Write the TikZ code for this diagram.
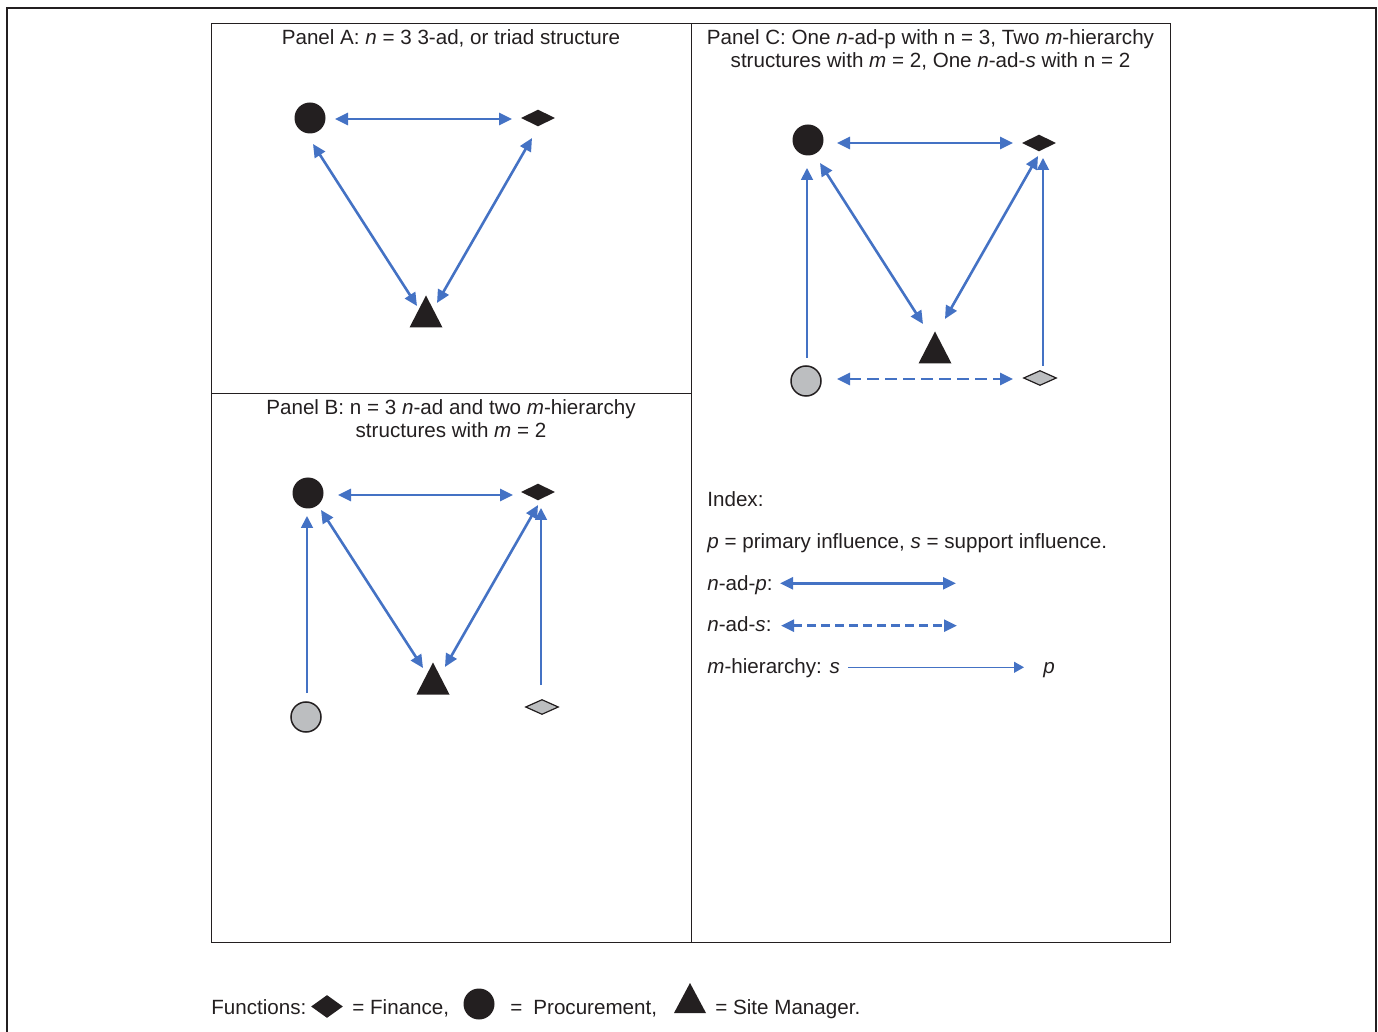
\documentclass[tikz,border=0pt]{standalone}
\usepackage{fontspec}
\setmainfont{Liberation Sans}
\usetikzlibrary{arrows.meta,shapes.geometric}
\definecolor{ink}{HTML}{231F20}
\definecolor{arrblue}{HTML}{4472C4}
\definecolor{shade}{HTML}{BCBEC0}
\begin{document}
\begin{tikzpicture}[x=0.5pt,y=-0.5pt, font=\fontsize{10.3pt}{12pt}\selectfont, text=ink,
 bcirc/.style={circle, fill=ink, inner sep=0pt, minimum size=15.5pt},
 gcirc/.style={circle, fill=shade, draw=ink, line width=0.75pt, inner sep=0pt, minimum size=15pt},
 bdiam/.style={diamond, fill=ink, inner sep=0pt, minimum width=17pt, minimum height=8.5pt},
 gdiam/.style={diamond, fill=shade, draw=ink, line width=0.6pt, inner sep=0pt, minimum width=16.5pt, minimum height=7.5pt},
 btri/.style={rectangle, inner sep=0pt, minimum width=16.5pt, minimum height=16pt,
   path picture={\fill[ink] (path picture bounding box.south west) -- (path picture bounding box.south east) -- (path picture bounding box.north) -- cycle;}},
 txt/.style={anchor=base, inner sep=0pt},
 ltxt/.style={anchor=base west, inner sep=0pt},
 nadp/.style={draw=arrblue, line width=1.3pt, {Triangle[length=6.5pt,width=6pt]}-{Triangle[length=6.5pt,width=6pt]}},
 nads/.style={nadp, dash pattern=on 6pt off 3pt},
 mhier/.style={draw=arrblue, line width=0.9pt, -{Triangle[length=6pt,width=6pt]}},
]
\useasboundingbox (0,0) rectangle (1378,1032);
% frames
\draw[line width=1pt, ink] (7,1040) -- (7,8) -- (1376,8) -- (1376,1040);
\draw[line width=0.5pt, ink] (211,24) rectangle (1170,942);
\draw[line width=0.5pt, ink] (691,24) -- (691,942);
\draw[line width=0.5pt, ink] (211,394) -- (691,394);

% ---------- Panel A ----------
\node[txt] (titA) at (451,45) {Panel A: \textit{n} = 3 3-ad, or triad structure};
\node[bcirc] (cA) at (310,118) {};
\node[bdiam] (dA) at (538,118) {};
\node[btri] (tA) at (426,311.5) {};
\draw[nadp] ([shift={(25,1)}]cA.center) -- ([shift={(-26,1)}]dA.center);
\draw[nadp] ([shift={(3,26)}]cA.center) -- ([shift={(-9,-5.5)}]tA.center);
\draw[nadp] ([shift={(-6,20)}]dA.center) -- ([shift={(11,-8.5)}]tA.center);

% ---------- Panel B ----------
\node[txt] (titB1) at (451,415) {Panel B: n = 3 \textit{n}-ad and two \textit{m}-hierarchy};
\node[txt] (titB2) at (451,438) {structures with \textit{m} = 2};
\node[bcirc] (cB) at (308,493) {};
\node[bdiam] (dB) at (538,492) {};
\node[btri] (tB) at (433,678.5) {};
\node[gcirc] (gcB) at (306,717) {};
\node[gdiam] (gdB) at (542,707) {};
\draw[nadp] ([shift={(30,2)}]cB.center) -- ([shift={(-25,3)}]dB.center);
\draw[nadp] ([shift={(13,17)}]cB.center) -- ([shift={(-10,-10.5)}]tB.center);
\draw[nadp] ([shift={(0,13)}]dB.center) -- ([shift={(12,-11.5)}]tB.center);
\draw[mhier] ([shift={(1,-24)}]gcB.center) -- ([shift={(-1,23)}]cB.center);
\draw[mhier] ([shift={(-1,-22)}]gdB.center) -- ([shift={(3,16)}]dB.center);

% ---------- Panel C ----------
\node[txt] (titC1) at (930.5,45) {Panel C: One \textit{n}-ad-p with n = 3, Two \textit{m}-hierarchy};
\node[txt] (titC2) at (930.5,68) {structures with \textit{m} = 2, One \textit{n}-ad-\textit{s} with n = 2};
\node[bcirc] (cC) at (808,140) {};
\node[bdiam] (dC) at (1039,143) {};
\node[btri] (tC) at (935,347.5) {};
\node[gcirc] (gcC) at (806,381) {};
\node[gdiam] (gdC) at (1040,378) {};
\draw[nadp] ([shift={(29,3)}]cC.center) -- ([shift={(-26,0)}]dC.center);
\draw[nadp] ([shift={(12,23)}]cC.center) -- ([shift={(-12,-23.5)}]tC.center);
\draw[nadp] ([shift={(-1,13)}]dC.center) -- ([shift={(10,-28.5)}]tC.center);
\draw[mhier] ([shift={(1,-23)}]gcC.center) -- ([shift={(-1,28)}]cC.center);
\draw[mhier] ([shift={(3,-12)}]gdC.center) -- ([shift={(4,15)}]dC.center);
\draw[nads] ([shift={(31,-2)}]gcC.center) -- ([shift={(-27,1)}]gdC.center);

% ---------- Index ----------
\node[ltxt] (idx) at (707,507) {Index:};
\node[ltxt] (idxps) at (707,548) {\textit{p} = primary influence, \textit{s} = support influence.};
\node[ltxt] (lp) at (707,590) {\textit{n}-ad-\textit{p}:};
\node[ltxt] (ls) at (707,632) {\textit{n}-ad-\textit{s}:};
\node[ltxt] (lm) at (707,673) {\textit{m}-hierarchy: \textit{s}};
\node[ltxt] (lmp) at (1043,673) {\textit{p}};
\coordinate (p1) at (780,583.3);
\coordinate (p2) at (956,583.3);
\coordinate (s1) at (781,625.7);
\coordinate (s2) at (957,625.7);
\coordinate (m1) at (848,667.3);
\coordinate (m2) at (1024,667.3);
\draw[nadp] (p1) -- (p2);
\draw[nadp, dash pattern=on 4.5pt off 2.5pt] (s1) -- (s2);
\draw[draw=arrblue, line width=0.7pt, -{Triangle[length=5pt,width=5.5pt]}] (m1) -- (m2);

% ---------- Functions legend ----------
\node[ltxt] (fn) at (211,1014) {Functions:};
\node[diamond, fill=ink, inner sep=0pt, minimum width=16pt, minimum height=11.5pt] (fd) at (327,1006.5) {};
\node[ltxt] (ffin) at (352,1014) {= Finance,};
\node[bcirc] (fc) at (479,1004) {};
\node[ltxt] (feq) at (510,1014) {=};
\node[ltxt] (fpro) at (533,1014) {Procurement,};
\node[btri, minimum width=16pt, minimum height=15pt] (ft) at (690,998) {};
\node[ltxt] (fsite) at (715,1014) {= Site Manager.};
\end{tikzpicture}
\end{document}
